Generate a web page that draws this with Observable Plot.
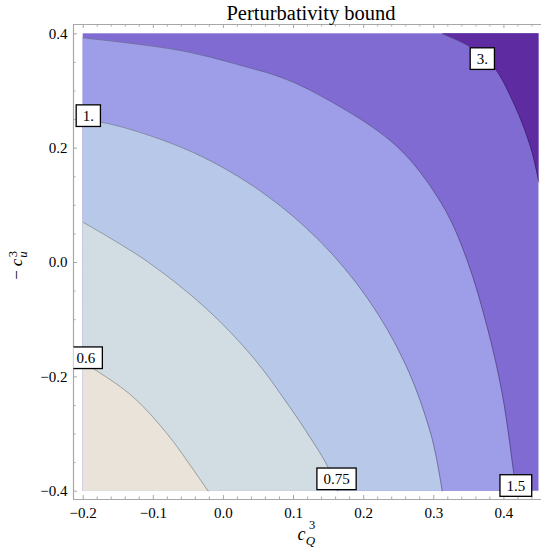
<!DOCTYPE html>
<html>
<head>
<meta charset="utf-8">
<script src="https://cdn.jsdelivr.net/npm/d3@7"></script>
<script src="https://cdn.jsdelivr.net/npm/@observablehq/plot@0.6"></script>
<style>
  body { margin: 0; background: #fff; }
  #chart svg { display: block; }
</style>
</head>
<body>
<div id="chart"></div>
<script>
// Region of the (c_Q^3, -c_u^3) plane that is sampled
const xRange = [-0.2, 0.45];
const yRange = [-0.4, 0.4];
// Plot frame extent (the range plus a little padding)
const xFrame = [-0.2138, 0.4536];
const yFrame = [-0.4145, 0.4163];

// Contour lines of the perturbativity bound, one array pair per level
const c06X = [-0.2, -0.18, -0.128, -0.08, -0.042, -0.0217];
const c06Y = [-0.176, -0.19, -0.236, -0.300, -0.364, -0.4];

const c075X = [-0.2, -0.1087, -0.0231, 0.0434, 0.0933, 0.1243, 0.1481, 0.1628];
const c075Y = [0.0703, 0.0019, -0.0821, -0.1676, -0.2504, -0.3073, -0.3554, -0.4];

const c1X = [-0.2, -0.1402, -0.0390, 0.0542, 0.1366, 0.2058, 0.2596, 0.2965, 0.3121];
const c1Y = [0.2514, 0.2355, 0.1901, 0.1237, 0.0384, -0.0633, -0.1782, -0.3030, -0.4];

const c15X = [-0.2, -0.0612, 0.0340, 0.0815, 0.1243, 0.2194, 0.2669, 0.3168, 0.3478, 0.3763, 0.3977, 0.4143, 0.4178];
const c15Y = [0.393, 0.3708, 0.3416, 0.3241, 0.3008, 0.2308, 0.1783, 0.0908, 0.0033, -0.1134, -0.2299, -0.3699, -0.4];

const c3X = [0.3121, 0.3525, 0.3857, 0.4143, 0.4381, 0.45];
const c3Y = [0.4, 0.3766, 0.3416, 0.2775, 0.2016, 0.1403];

// Contour level labels
const labelText = ["1.", "3.", "0.6", "0.75", "1.5"];
const labelX = [-0.1927, 0.3692, -0.196, 0.1613, 0.417];
const labelY = [0.2565, 0.3563, -0.1669, -0.3787, -0.3904];

// Tick values
const xTicks = [-0.2, -0.1, 0.0, 0.1, 0.2, 0.3, 0.4];
const yTicks = [-0.4, -0.2, 0.0, 0.2, 0.4];
const xMinor = d3.range(-10, 23).map(i => i / 50).filter(v => !xTicks.some(t => Math.abs(t - v) < 1e-9));
const yMinor = d3.range(-8, 9).map(i => i / 20).filter(v => !yTicks.some(t => Math.abs(t - v) < 1e-9));

// Band colours, from lowest to highest level
const bandColors = ["#e9e3d9", "#d2dde3", "#b8c8e8", "#9e9de7", "#7f6bd2", "#5e2ca0"];

const zip = (xs, ys) => xs.map((x, i) => ({x, y: ys[i]}));
const contours = [zip(c06X, c06Y), zip(c075X, c075Y), zip(c1X, c1Y), zip(c15X, c15Y), zip(c3X, c3Y)];
const labels = labelText.map((text, i) => ({text, x: labelX[i], y: labelY[i]}));

const width = 541, height = 551;
const margin = {top: 24, right: 0, bottom: 52, left: 73};
const innerH = height - margin.top - margin.bottom;
const innerW = width - margin.left - margin.right;
const frameColor = "#a8a8a8";

const below = (pts, fill) => Plot.areaY(pts, {x: "x", y1: () => yRange[0], y2: "y", fill, curve: "catmull-rom"});

const plot = Plot.plot({
  width, height,
  marginTop: margin.top, marginRight: margin.right, marginBottom: margin.bottom, marginLeft: margin.left,
  style: {fontFamily: "'Liberation Serif', 'Times New Roman', serif", fontSize: "15px", background: "#fff", color: "#000"},
  x: {domain: xFrame},
  y: {domain: yFrame},
  marks: [
    // band between 1.5 and 3 fills the whole range first
    Plot.rect([{}], {x1: () => xRange[0], x2: () => xRange[1], y1: () => yRange[0], y2: () => yRange[1], fill: bandColors[4]}),
    // above 3 (upper right corner)
    Plot.areaY(contours[4], {x: "x", y1: "y", y2: () => yRange[1], fill: bandColors[5], curve: "catmull-rom"}),
    // nested regions below each level
    below(contours[3], bandColors[3]),
    below(contours[2], bandColors[2]),
    below(contours[1], bandColors[1]),
    below(contours[0], bandColors[0]),
    // contour lines
    ...contours.map(pts => Plot.line(pts, {x: "x", y: "y", stroke: "#000", strokeOpacity: 0.32, strokeWidth: 0.9, curve: "catmull-rom"})),
    // frame: left, bottom and top edges
    Plot.ruleX([xFrame[0]], {stroke: frameColor, strokeWidth: 1.2}),
    Plot.ruleY(yFrame, {stroke: frameColor, strokeWidth: 1.2}),
    // inward ticks on bottom and top
    Plot.ruleX(xTicks, {stroke: frameColor, insetTop: innerH - 4}),
    Plot.ruleX(xMinor, {stroke: frameColor, insetTop: innerH - 2.5}),
    Plot.ruleX(xTicks, {stroke: frameColor, insetBottom: innerH - 4}),
    Plot.ruleX(xMinor, {stroke: frameColor, insetBottom: innerH - 2.5}),
    // inward ticks on the left
    Plot.ruleY(yTicks, {stroke: frameColor, insetRight: innerW - 4}),
    Plot.ruleY(yMinor, {stroke: frameColor, insetRight: innerW - 2.5}),
    Plot.axisX({ticks: xTicks, tickSize: 0, tickPadding: 8, tickFormat: d3.format(".1f"), label: null, fontSize: 15}),
    Plot.axisY({ticks: yTicks, tickSize: 0, tickPadding: 6, tickFormat: d3.format(".1f"), label: null, fontSize: 15}),
    // contour level labels
    Plot.text(labels, {x: "x", y: "y", text: "text", fontSize: 15, fill: "#000"})
  ]
});

document.getElementById("chart").appendChild(plot);

// White framed boxes behind the contour labels, clipped to the frame
const svg = d3.select(plot);
const clipId = "frame-clip";
svg.append("defs").append("clipPath").attr("id", clipId)
  .append("rect").attr("x", margin.left).attr("y", margin.top).attr("width", innerW).attr("height", innerH);
svg.selectAll('g[aria-label="text"]').attr("clip-path", `url(#${clipId})`);
svg.selectAll('g[aria-label="text"] text').each(function() {
  const b = this.getBBox();
  const padX = 6.5, padY = 2.8;
  d3.select(this.parentNode).insert("rect", () => this)
    .attr("transform", this.getAttribute("transform"))
    .attr("x", b.x - padX).attr("y", b.y - padY)
    .attr("width", b.width + 2 * padX).attr("height", b.height + 2 * padY)
    .attr("fill", "#fff").attr("stroke", "#000").attr("stroke-width", 1.3);
});

// Title
svg.append("text")
  .attr("x", 311).attr("y", 19.5)
  .attr("text-anchor", "middle")
  .attr("font-size", 20.5)
  .attr("fill", "#000")
  .text("Perturbativity bound");

// x axis label: c_Q^3
const xl = svg.append("text").attr("fill", "#000");
xl.append("tspan").attr("x", 301.5).attr("y", 540).attr("font-size", 18).attr("font-style", "italic").text("c");
xl.append("tspan").attr("x", 312).attr("y", 529).attr("font-size", 12.5).text("3");
xl.append("tspan").attr("x", 310.5).attr("y", 544.5).attr("font-size", 13).attr("font-style", "italic").text("Q");

// y axis label: -c_u^3 (rotated)
const yl = svg.append("text").attr("fill", "#000").attr("transform", "translate(22,261) rotate(-90)");
yl.append("tspan").attr("x", -14).attr("y", 0).attr("font-size", 17).text("\u2212");
yl.append("tspan").attr("x", -1.5).attr("y", 0).attr("font-size", 17).attr("font-style", "italic").text("c");
yl.append("tspan").attr("x", 7).attr("y", -5).attr("font-size", 12.5).text("3");
yl.append("tspan").attr("x", 6.5).attr("y", 5).attr("font-size", 13).attr("font-style", "italic").text("u");
</script>
</body>
</html>
